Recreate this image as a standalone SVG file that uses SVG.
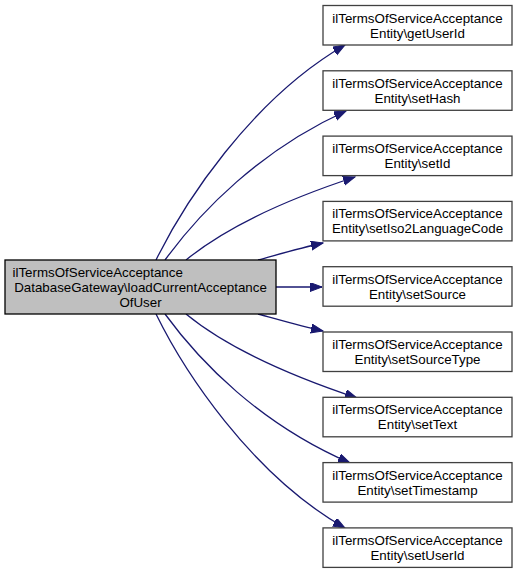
<svg xmlns="http://www.w3.org/2000/svg" width="521" height="575" viewBox="0 0 521 575">
<style>
.box{fill:#ffffff;stroke:#404040;stroke-width:1.3}
.main{fill:#bfbfbf;stroke:#000000;stroke-width:1.3}
.t{font-family:"Liberation Sans",Arial,Helvetica,sans-serif;font-size:13.33px;fill:#000;text-anchor:middle}
.e{fill:none;stroke:#191970;stroke-width:1.3;marker-end:url(#ah)}
</style>
<defs>
<marker id="ah" markerUnits="userSpaceOnUse" markerWidth="13" markerHeight="10" refX="12" refY="4.5" orient="auto">
<path d="M0,0 L12,4.5 L0,9 z" fill="#191970" stroke="#191970" stroke-width="1"/>
</marker>
</defs>
<rect width="521" height="575" fill="#ffffff"/>
<g id="connectors">
<path class="e" d="M156,260 C183,205 250,100 345,45"/>
<path class="e" d="M165,260 C200,212 260,150 346,111"/>
<path class="e" d="M186,260 C225,228 285,200 355,177"/>
<path class="e" d="M258,260 C280,254 300,248 323,243"/>
<path class="e" d="M276,287 L322,287"/>
<path class="e" d="M258,314 C280,320 300,326 323,331"/>
<path class="e" d="M186,314 C225,346 285,374 357,398"/>
<path class="e" d="M165,314 C200,362 260,424 350,463"/>
<path class="e" d="M156,314 C183,369 250,474 345,528"/>
</g>
<g id="main">
<rect class="main" x="5" y="260" width="271" height="54"/>
<text class="t" x="140.5" y="277" style="text-anchor:start" dx="-128">ilTermsOfServiceAcceptance</text>
<text class="t" x="140.5" y="292">DatabaseGateway\loadCurrentAcceptance</text>
<text class="t" x="140.5" y="307">OfUser</text>
</g>
<g id="n1">
<rect class="box" x="323" y="5.5" width="189" height="39.5"/>
<text class="t" x="417.5" y="22.5">ilTermsOfServiceAcceptance</text>
<text class="t" x="417.5" y="37.5">Entity\getUserId</text>
</g>
<g id="n2">
<rect class="box" x="323" y="70.8" width="189" height="39.5"/>
<text class="t" x="417.5" y="87.8">ilTermsOfServiceAcceptance</text>
<text class="t" x="417.5" y="102.8">Entity\setHash</text>
</g>
<g id="n3">
<rect class="box" x="323" y="136.1" width="189" height="39.5"/>
<text class="t" x="417.5" y="153.1">ilTermsOfServiceAcceptance</text>
<text class="t" x="417.5" y="168.1">Entity\setId</text>
</g>
<g id="n4">
<rect class="box" x="323" y="201.4" width="189" height="39.5"/>
<text class="t" x="417.5" y="218.4">ilTermsOfServiceAcceptance</text>
<text class="t" x="417.5" y="233.4">Entity\setIso2LanguageCode</text>
</g>
<g id="n5">
<rect class="box" x="323" y="266.7" width="189" height="39.5"/>
<text class="t" x="417.5" y="283.7">ilTermsOfServiceAcceptance</text>
<text class="t" x="417.5" y="298.7">Entity\setSource</text>
</g>
<g id="n6">
<rect class="box" x="323" y="332" width="189" height="39.5"/>
<text class="t" x="417.5" y="349">ilTermsOfServiceAcceptance</text>
<text class="t" x="417.5" y="364">Entity\setSourceType</text>
</g>
<g id="n7">
<rect class="box" x="323" y="397.3" width="189" height="39.5"/>
<text class="t" x="417.5" y="414.3">ilTermsOfServiceAcceptance</text>
<text class="t" x="417.5" y="429.3">Entity\setText</text>
</g>
<g id="n8">
<rect class="box" x="323" y="462.6" width="189" height="39.5"/>
<text class="t" x="417.5" y="479.6">ilTermsOfServiceAcceptance</text>
<text class="t" x="417.5" y="494.6">Entity\setTimestamp</text>
</g>
<g id="n9">
<rect class="box" x="323" y="527.9" width="189" height="39.5"/>
<text class="t" x="417.5" y="544.9">ilTermsOfServiceAcceptance</text>
<text class="t" x="417.5" y="559.9">Entity\setUserId</text>
</g>
</svg>
